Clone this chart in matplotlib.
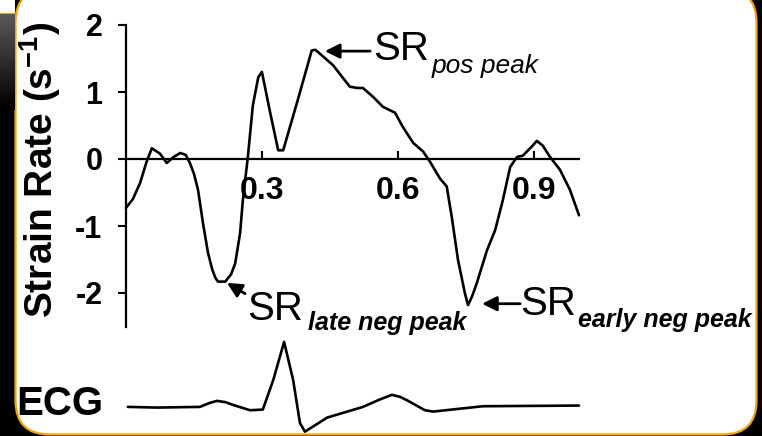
import numpy as np
import matplotlib
matplotlib.use("Agg")
import matplotlib.pyplot as plt
from matplotlib.patches import FancyBboxPatch, Rectangle
from matplotlib.transforms import IdentityTransform

plt.rcParams["font.family"] = ["Liberation Sans", "DejaVu Sans"]
plt.rcParams["mathtext.fontset"] = "custom"
plt.rcParams["mathtext.rm"] = "Liberation Sans"
plt.rcParams["mathtext.it"] = "Liberation Sans:italic"
plt.rcParams["mathtext.bf"] = "Liberation Sans:bold"

# strain rate trace over one cardiac cycle (time in s, SR in 1/s)
sr_time = [0.000, 0.015, 0.031, 0.045, 0.057, 0.075, 0.090, 0.105, 0.120, 0.132,
           0.141, 0.150, 0.159, 0.170, 0.181, 0.190, 0.197, 0.203, 0.219, 0.232,
           0.241, 0.252, 0.258, 0.269, 0.280, 0.292, 0.300, 0.318, 0.336, 0.347,
           0.380, 0.410, 0.418, 0.430, 0.457, 0.494, 0.510, 0.523, 0.545, 0.567,
           0.594, 0.611, 0.634, 0.656, 0.671, 0.693, 0.708, 0.719, 0.733, 0.748,
           0.755, 0.764, 0.774, 0.797, 0.815, 0.832, 0.848, 0.863, 0.876, 0.895,
           0.907, 0.920, 0.935, 0.958, 0.980, 1.000]
sr_value = [-0.73, -0.60, -0.36, -0.05, 0.16, 0.08, -0.06, 0.03, 0.09, 0.06,
            -0.06, -0.22, -0.46, -0.96, -1.40, -1.64, -1.77, -1.83, -1.83, -1.72,
            -1.56, -1.10, -0.61, 0.03, 0.80, 1.22, 1.30, 0.70, 0.13, 0.13,
            0.90, 1.62, 1.63, 1.56, 1.40, 1.08, 1.06, 1.06, 0.93, 0.78,
            0.69, 0.48, 0.24, 0.11, -0.04, -0.29, -0.41, -0.86, -1.51, -2.00,
            -2.18, -2.05, -1.86, -1.36, -1.06, -0.61, -0.12, 0.03, 0.05, 0.18,
            0.27, 0.20, 0.04, -0.16, -0.46, -0.84]

# ECG trace (arbitrary units, baseline 0)
ecg_time = [0.004, 0.068, 0.163, 0.185, 0.201, 0.220, 0.236, 0.274, 0.302, 0.325,
            0.349, 0.369, 0.384, 0.395, 0.444, 0.523, 0.560, 0.587, 0.605, 0.620,
            0.660, 0.678, 0.788, 1.000]
ecg_value = [0.00, -0.01, 0.00, 0.06, 0.09, 0.07, 0.03, -0.05, -0.04, 0.40,
             0.97, 0.40, -0.24, -0.37, -0.16, 0.00, 0.11, 0.18, 0.15, 0.10,
             -0.05, -0.07, 0.01, 0.02]

y_ticks = [-2, -1, 0, 1, 2]
x_ticks = [0.3, 0.6, 0.9]
x_tick_labels = ["0.3", "0.6", "0.9"]

W, H = 762, 436
fig = plt.figure(figsize=(W / 100, H / 100), dpi=100, facecolor="black")

# slide-like frame: white rounded panel with orange border
orange = "#f2a20c"
fig.patches.append(Rectangle((0, H - 13), 15, 13, facecolor="white", edgecolor="none",
                             transform=IdentityTransform(), zorder=-3))
fig.patches.append(Rectangle((0, H - 14), 15, 1.5, facecolor=orange, edgecolor="none",
                             transform=IdentityTransform(), zorder=-3))
fig.patches.append(FancyBboxPatch((15.5, 1.5), 741, 446,
                                  boxstyle="round,pad=0,rounding_size=34",
                                  facecolor="white", edgecolor=orange, linewidth=1.6,
                                  transform=IdentityTransform(), zorder=-2))
gax = fig.add_axes([0, (H - 110) / H, 15 / W, 96 / H])
gax.imshow(np.linspace(0.35, 0.0, 50)[:, None], cmap="gray", vmin=0, vmax=1,
           aspect="auto")
gax.axis("off")

ylo, yhi = -4.1, 2.3
ax = fig.add_axes([126 / W, (H - (159 + 4.1 * 67)) / H, 453 / W, 6.4 * 67 / H])
ax.set_facecolor("none")
ax.set_xlim(0, 1.0)
ax.set_ylim(ylo, yhi)

line_kw = dict(color="black", lw=1.9, clip_on=False,
               solid_joinstyle="round", solid_capstyle="round")
ax.plot(sr_time, sr_value, **line_kw)
ecg_base = -3.70
ax.plot(ecg_time, np.array(ecg_value) + ecg_base, **line_kw)

ax.spines["top"].set_visible(False)
ax.spines["right"].set_visible(False)
ax.spines["bottom"].set_position(("data", 0))
ax.spines["left"].set_bounds(-2.5, 2)
for s in ("left", "bottom"):
    ax.spines[s].set_linewidth(1.6)

ax.set_yticks(y_ticks)
ax.set_yticklabels([str(v) for v in y_ticks])
ax.set_xticks(x_ticks)
ax.set_xticklabels(x_tick_labels)
ax.tick_params(axis="y", direction="out", length=6, width=1.5, pad=11,
               labelsize=22)
ax.tick_params(axis="x", direction="in", length=6, width=1.5, pad=12,
               labelsize=23)
for lab in ax.get_xticklabels() + ax.get_yticklabels():
    lab.set_fontweight("bold")

ax.set_ylabel(r"Strain Rate (s$^{\mathbf{-1}}$)", fontsize=28, fontweight="bold",
              va="center")
ax.yaxis.set_label_coords(-0.19, (-0.16 - ylo) / (yhi - ylo))

fig.text(60 / W, 1 - 404 / H, "ECG", fontsize=29, fontweight="bold",
         ha="center", va="center")

arrow = dict(arrowstyle="-|>", color="black", lw=2, mutation_scale=22,
             shrinkA=0, shrinkB=0)
# (head, tail, SR position, subscript position, subscript text, weight, size)
notes = [
    ((0.439, 1.61), (0.539, 1.61), (0.545, 1.48), (0.675, 1.28), "pos peak", "normal", 19),
    ((0.223, -1.85), (0.263, -2.01), (0.267, -2.40), (0.402, -2.55), "late neg peak", "bold", 18),
    ((0.786, -2.16), (0.870, -2.16), (0.870, -2.33), (0.998, -2.51), "early neg peak", "bold", 18),
]
for head, tail, srpos, subpos, sub, wt, sz in notes:
    ax.annotate("", xy=head, xytext=tail, arrowprops=arrow)
    ax.text(*srpos, "SR", fontsize=29, ha="left", va="baseline", clip_on=False)
    ax.text(*subpos, sub, fontsize=sz, style="italic", fontweight=wt,
            ha="left", va="baseline", clip_on=False)

fig.savefig("out.png", dpi=100, facecolor=fig.get_facecolor())
